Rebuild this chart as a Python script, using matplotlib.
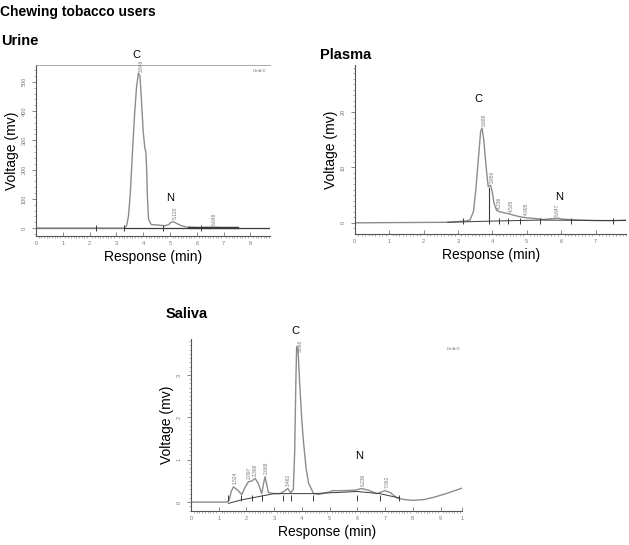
import matplotlib.pyplot as plt
from matplotlib.ticker import MultipleLocator

plt.rcParams['font.family'] = ['Liberation Sans', 'DejaVu Sans']

# Urine chromatogram (time in min, voltage in mV)
urine_t = [0, 3.3, 3.38, 3.45, 3.52, 3.6, 3.68, 3.75, 3.82, 3.88, 3.94, 4.0, 4.06, 4.1,
           4.13, 4.16, 4.2, 4.3, 4.6, 4.8, 4.95, 5.05, 5.12, 5.25, 5.4, 5.6, 6.0, 6.6, 7.0, 7.55]
urine_v = [0, 0, 8, 40, 120, 260, 390, 480, 530, 520, 430, 330, 275, 260,
           200, 100, 30, 12, 10, 8, 12, 20, 22, 16, 9, 4, 2, 3, 2, 2]
urine_marks = [2.25, 3.3, 4.75, 6.15]
urine_peaks = [(3.95, 535, '3.846'), (5.2, 30, '5.120'), (6.65, 10, '6.648')]

# Plasma chromatogram
plasma_t = [0, 2.7, 3.2, 3.35, 3.45, 3.52, 3.6, 3.66, 3.7, 3.75, 3.82, 3.88, 3.95, 4.0, 4.05,
            4.12, 4.2, 4.35, 4.5, 4.6, 4.8, 5.0, 5.2, 5.5, 5.8, 5.9, 6.0, 6.2, 6.5, 7.0, 7.5, 7.9]
plasma_v = [0, 0.1, 0.3, 0.5, 2, 6, 12, 16.5, 17.1, 15, 10, 6.5, 6.8, 5.5, 3.5,
            2.3, 2.0, 1.8, 1.6, 1.4, 1.1, 0.9, 0.8, 0.6, 0.8, 0.85, 0.7, 0.6, 0.5, 0.4, 0.4, 0.5]
plasma_base_t = [2.7, 3.9, 5.4, 7.9]
plasma_base_v = [0.1, 0.3, 0.5, 0.4]
plasma_marks = [3.15, 3.9, 4.18, 4.45, 4.8, 5.4, 6.3, 7.5]
plasma_peaks = [(3.78, 17.5, '3.688'), (4.0, 7.2, '3.956'), (4.22, 2.5, '4.236'),
                (4.55, 2.0, '4.535'), (5.0, 1.5, '4.995'), (5.9, 1.2, '5.847')]

# Saliva chromatogram
saliva_t = [0, 1.3, 1.38, 1.45, 1.53, 1.65, 1.83, 1.95, 2.07, 2.2, 2.31, 2.42, 2.55, 2.62, 2.67,
            2.79, 3.0, 3.2, 3.35, 3.49, 3.6, 3.69, 3.74, 3.78, 3.81, 3.86, 3.92, 4.0, 4.05, 4.15,
            4.24, 4.42, 4.6, 5.0, 5.1, 5.5, 5.9, 6.16, 6.4, 6.7, 7.0, 7.2, 7.42, 7.7, 8.02, 8.4,
            8.74, 9.2, 9.78]
saliva_v = [0, 0, 0.05, 0.25, 0.36, 0.3, 0.18, 0.35, 0.48, 0.5, 0.56, 0.45, 0.2, 0.45, 0.6,
            0.23, 0.2, 0.2, 0.25, 0.32, 0.22, 0.3, 1.2, 2.8, 3.67, 3.6, 2.8, 1.9, 1.47, 0.8,
            0.45, 0.2, 0.18, 0.24, 0.27, 0.27, 0.28, 0.32, 0.28, 0.2, 0.27, 0.22, 0.1, 0.06, 0.04, 0.06,
            0.11, 0.2, 0.33]
saliva_base_t = [1.35, 1.8, 2.2, 2.6, 3.0, 3.6, 4.4, 6.0, 6.8, 7.5]
saliva_base_v = [-0.03, 0.05, 0.1, 0.15, 0.2, 0.2, 0.2, 0.25, 0.2, 0.1]
saliva_marks = [1.35, 1.8, 2.2, 2.55, 3.3, 3.6, 4.4, 6.0, 6.8, 7.5]
saliva_peaks = [(1.58, 0.42, '1.524'), (2.12, 0.55, '2.097'), (2.33, 0.62, '2.308'),
                (2.72, 0.66, '2.668'), (3.52, 0.38, '3.462'), (3.95, 3.55, '3.866'),
                (6.23, 0.38, '6.236'), (7.08, 0.34, '7.062')]

fig = plt.figure(figsize=(6.29, 5.45), dpi=100)

line_col = '#8c8c8c'
base_col = '#3a3a3a'


def setup(ax, xmax, ylim, yticks, yminor, xticks):
    ax.set_xlim(0, xmax)
    ax.set_ylim(*ylim)
    ax.set_xticks(xticks)
    ax.set_yticks(yticks)
    ax.xaxis.set_minor_locator(MultipleLocator(0.1))
    ax.yaxis.set_minor_locator(MultipleLocator(yminor))
    ax.tick_params(axis='both', which='major', labelsize=4, colors='#777777', length=3, width=0.6)
    ax.tick_params(axis='both', which='minor', length=1.5, width=0.4, colors='#777777')
    ax.tick_params(axis='x', direction='in')
    ax.tick_params(axis='y', labelrotation=90)
    for lab in ax.get_yticklabels():
        lab.set_va('center')
    ax.spines['right'].set_visible(False)
    ax.spines['top'].set_visible(False)
    for s in ['left', 'bottom']:
        ax.spines[s].set_color('#555555')
        ax.spines[s].set_linewidth(0.8)
    ax.set_xlabel('Response (min)', fontsize=10, labelpad=3)
    ax.set_ylabel('Voltage (mv)', fontsize=10, labelpad=2)


def peaks(ax, items):
    for x, y, s in items:
        ax.text(x, y, s, rotation=90, fontsize=3.5, color='#777777', ha='center', va='bottom')


# Urine
ax1 = fig.add_axes([0.0572, 0.567, 0.372, 0.314])
setup(ax1, 8.73, (-27, 558), [0, 100, 200, 300, 400, 500], 20, range(0, 9))
ax1.spines['top'].set_visible(True)
ax1.spines['top'].set_color('#999999')
ax1.spines['top'].set_linewidth(0.6)
ax1.axhline(0, color=base_col, lw=0.9)
ax1.plot(urine_t, urine_v, color=line_col, lw=1.0)
ax1.plot([5.7, 7.55], [2, 2], color=base_col, lw=1.6)
ax1.plot(urine_marks, [0] * len(urine_marks), ls='none', marker='|', ms=4, color=base_col, mew=0.7)
peaks(ax1, urine_peaks)
ax1.text(3.75, 575, 'C', fontsize=8, ha='center', va='bottom')
ax1.text(5.0, 85, 'N', fontsize=8, ha='center', va='bottom')
ax1.text(8.6, 545, 'DetA:D', fontsize=3, color='#777777', ha='right', va='top')

# Plasma
ax2 = fig.add_axes([0.564, 0.571, 0.432, 0.310])
setup(ax2, 7.9, (-1.98, 28.5), [0, 10, 20], 1, range(0, 8))
ax2.plot(plasma_t, plasma_v, color=line_col, lw=1.0)
ax2.plot(plasma_base_t, plasma_base_v, color=base_col, lw=0.7)
ax2.plot([3.9, 3.9], [0.3, 6.2], color=base_col, lw=0.8)
ax2.plot(plasma_marks, [0.3] * len(plasma_marks), ls='none', marker='|', ms=4, color=base_col, mew=0.7)
peaks(ax2, plasma_peaks)
ax2.text(3.6, 21.5, 'C', fontsize=8, ha='center', va='bottom')
ax2.text(5.95, 3.8, 'N', fontsize=8, ha='center', va='bottom')

# Saliva
ax3 = fig.add_axes([0.3037, 0.0624, 0.431, 0.3156])
setup(ax3, 9.78, (-0.21, 3.85), [0, 1, 2, 3], 0.1, list(range(0, 10)) + [9.77])
ax3.set_xticklabels([str(i) for i in range(0, 10)] + ['1'])
ax3.plot(saliva_t, saliva_v, color=line_col, lw=1.0)
ax3.plot(saliva_base_t, saliva_base_v, color=base_col, lw=0.7)
ax3.plot(saliva_marks, [0.1] * len(saliva_marks), ls='none', marker='|', ms=4, color=base_col, mew=0.7)
peaks(ax3, saliva_peaks)
ax3.text(3.75, 3.93, 'C', fontsize=8, ha='center', va='bottom')
ax3.text(6.05, 0.98, 'N', fontsize=8, ha='center', va='bottom')
ax3.text(9.7, 3.65, 'DetA:D', fontsize=3, color='#777777', ha='right', va='top')

fig.text(0.0, 0.99, 'Chewing tobacco users', fontsize=10, fontweight='bold', va='top')
fig.text(0.002, 0.937, 'Urine', fontsize=10.5, fontweight='bold', va='top')
fig.text(0.508, 0.912, 'Plasma', fontsize=10.5, fontweight='bold', va='top')
fig.text(0.263, 0.437, 'Saliva', fontsize=10.5, fontweight='bold', va='top')

fig.savefig('out.png', dpi=100)
